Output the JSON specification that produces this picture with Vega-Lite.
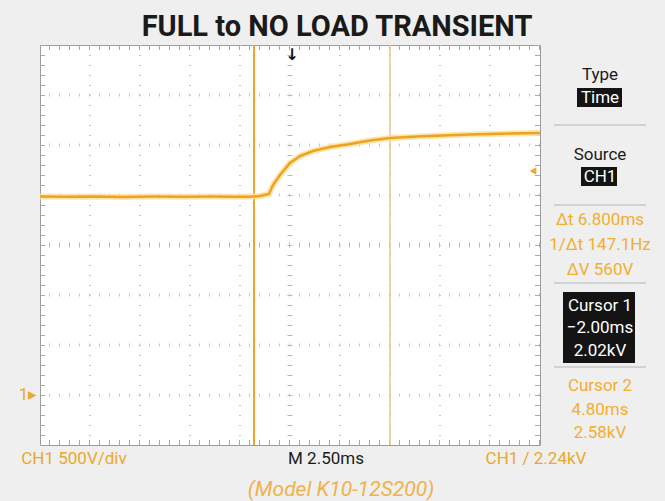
{
  "$schema": "https://vega.github.io/schema/vega-lite/v6.json",
  "autosize": {"type": "none"},
  "width": 500,
  "height": 400,
  "padding": {"left": 40, "top": 45, "right": 125, "bottom": 56},
  "background": "#efefef",
  "title": {"text": "FULL to NO LOAD TRANSIENT", "font": "Roboto", "fontWeight": "bold", "fontSize": 29, "color": "#1a1a1a", "anchor": "middle", "dx": 47, "offset": 1},
  "config": {"view": {"stroke": "#9c9c9c", "strokeWidth": 1, "fill": "white"}, "text": {"font": "Roboto"}},
  "datasets": {
    "trace": [
      {"t": -12.7, "v": 1984}, {"t": -11.5, "v": 1982}, {"t": -10.0, "v": 1985}, {"t": -8.5, "v": 1981},
      {"t": -7.0, "v": 1984}, {"t": -5.5, "v": 1982}, {"t": -4.0, "v": 1985}, {"t": -3.0, "v": 1983},
      {"t": -2.2, "v": 1983}, {"t": -1.7, "v": 1990}, {"t": -1.25, "v": 2010}, {"t": -1.05, "v": 2100},
      {"t": -0.7, "v": 2200}, {"t": -0.2, "v": 2320}, {"t": 0.3, "v": 2390}, {"t": 0.95, "v": 2440},
      {"t": 1.8, "v": 2480}, {"t": 2.65, "v": 2505}, {"t": 3.8, "v": 2545}, {"t": 4.8, "v": 2570},
      {"t": 6.15, "v": 2585}, {"t": 6.8, "v": 2590}, {"t": 8.8, "v": 2605}, {"t": 10.8, "v": 2615},
      {"t": 12.3, "v": 2620}
    ],
    "cursors": [
      {"cursor": "Cursor 1", "t": -2.0},
      {"cursor": "Cursor 2", "t": 4.8}
    ],
    "grid_t": [{"t": -10.2}, {"t": -7.7}, {"t": -5.2}, {"t": -2.7}, {"t": 2.3}, {"t": 4.8}, {"t": 7.3}, {"t": 9.8}],
    "grid_v": [{"v": 0}, {"v": 500}, {"v": 1000}, {"v": 2000}, {"v": 2500}, {"v": 3000}],
    "center": [{"t": -0.2, "v": 1500}],
    "edges_t": [{"t": -12.7}, {"t": 12.3}],
    "edges_v": [{"v": -500}, {"v": 3500}],
    "boxes": [
      {"item": "Time", "t": 14.15, "t2": 16.4, "v": 2880, "v2": 3070},
      {"item": "CH1", "t": 14.35, "t2": 16.15, "v": 2090, "v2": 2280},
      {"item": "Cursor 1", "t": 13.45, "t2": 17.05, "v": 320, "v2": 1030}
    ],
    "separators": [
      {"t": 13.0, "t2": 17.6, "v": 2700},
      {"t": 13.0, "t2": 17.6, "v": 1900},
      {"t": 13.0, "t2": 17.6, "v": 1120},
      {"t": 13.0, "t2": 17.6, "v": 280}
    ],
    "labels": [
      {"text": "Type", "t": 15.3, "v": 3200, "kind": "menu title"},
      {"text": "Time", "t": 15.3, "v": 2975, "kind": "menu value"},
      {"text": "Source", "t": 15.3, "v": 2400, "kind": "menu title"},
      {"text": "CH1", "t": 15.3, "v": 2185, "kind": "menu value"},
      {"text": "Δt 6.800ms", "t": 15.3, "v": 1750, "kind": "measurement"},
      {"text": "1/Δt 147.1Hz", "t": 15.3, "v": 1500, "kind": "measurement"},
      {"text": "ΔV 560V", "t": 15.3, "v": 1250, "kind": "measurement"},
      {"text": "Cursor 1", "t": 15.3, "v": 890, "kind": "cursor 1"},
      {"text": "−2.00ms", "t": 15.3, "v": 670, "kind": "cursor 1"},
      {"text": "2.02kV", "t": 15.3, "v": 440, "kind": "cursor 1"},
      {"text": "Cursor 2", "t": 15.3, "v": 95, "kind": "cursor 2"},
      {"text": "4.80ms", "t": 15.3, "v": -150, "kind": "cursor 2"},
      {"text": "2.58kV", "t": 15.3, "v": -380, "kind": "cursor 2"},
      {"text": "CH1  500V/div", "t": -11.0, "v": -640, "kind": "channel"},
      {"text": "M 2.50ms", "t": 1.6, "v": -640, "kind": "timebase"},
      {"text": "CH1  /  2.24kV", "t": 12.1, "v": -640, "kind": "channel"},
      {"text": "1▸", "t": -13.3, "v": 0, "kind": "channel"}
    ],
    "notes": [
      {"text": "(Model K10-12S200)", "t": 2.35, "v": -950}
    ],
    "trigger": [
      {"marker": "trigger level", "t": 11.95, "v": 2240},
      {"marker": "trigger position", "t": -0.1, "v": 3480}
    ]
  },
  "layer": [
    {
      "data": {"name": "grid_t"},
      "mark": {"type": "rule", "color": "#c4c4c4", "strokeWidth": 2, "strokeDash": [1, 9]},
      "encoding": {"x": {"field": "t", "type": "quantitative", "scale": {"domain": [-12.7, 12.3], "nice": false, "zero": false}, "axis": null}}
    },
    {
      "data": {"name": "grid_v"},
      "mark": {"type": "rule", "color": "#c4c4c4", "strokeWidth": 3, "strokeDash": [1, 9]},
      "encoding": {"y": {"field": "v", "type": "quantitative", "scale": {"domain": [-500, 3500], "nice": false, "zero": false}, "axis": null}}
    },
    {
      "data": {"name": "center"},
      "mark": {"type": "rule", "color": "#b8b8b8", "strokeWidth": 5, "strokeDash": [1, 9]},
      "encoding": {"x": {"field": "t", "type": "quantitative", "scale": {"domain": [-12.7, 12.3], "nice": false, "zero": false}, "axis": null}}
    },
    {
      "data": {"name": "center"},
      "mark": {"type": "rule", "color": "#b8b8b8", "strokeWidth": 5, "strokeDash": [1, 9]},
      "encoding": {"y": {"field": "v", "type": "quantitative", "scale": {"domain": [-500, 3500], "nice": false, "zero": false}, "axis": null}}
    },
    {
      "data": {"name": "edges_t"},
      "mark": {"type": "rule", "color": "#a8a8a8", "strokeWidth": 10, "strokeDash": [1, 9], "clip": true},
      "encoding": {"x": {"field": "t", "type": "quantitative", "scale": {"domain": [-12.7, 12.3], "nice": false, "zero": false}, "axis": null}}
    },
    {
      "data": {"name": "edges_v"},
      "mark": {"type": "rule", "color": "#a8a8a8", "strokeWidth": 10, "strokeDash": [1, 9], "clip": true},
      "encoding": {"y": {"field": "v", "type": "quantitative", "scale": {"domain": [-500, 3500], "nice": false, "zero": false}, "axis": null}}
    },
    {
      "data": {"name": "cursors"},
      "transform": [{"filter": "datum.cursor === 'Cursor 2'"}],
      "mark": {"type": "rule", "color": "#e4c78c", "strokeWidth": 1.5},
      "encoding": {"x": {"field": "t", "type": "quantitative", "scale": {"domain": [-12.7, 12.3], "nice": false, "zero": false}, "axis": null}}
    },
    {
      "data": {"name": "cursors"},
      "transform": [{"filter": "datum.cursor === 'Cursor 1'"}],
      "mark": {"type": "rule", "color": "#f0a22a", "strokeWidth": 2},
      "encoding": {"x": {"field": "t", "type": "quantitative", "scale": {"domain": [-12.7, 12.3], "nice": false, "zero": false}, "axis": null}}
    },
    {
      "data": {"name": "trace"},
      "mark": {"type": "line", "color": "#fbe2a0", "strokeWidth": 6, "opacity": 0.85},
      "encoding": {
        "x": {"field": "t", "type": "quantitative", "scale": {"domain": [-12.7, 12.3], "nice": false, "zero": false}, "axis": null},
        "y": {"field": "v", "type": "quantitative", "scale": {"domain": [-500, 3500], "nice": false, "zero": false}, "axis": null}
      }
    },
    {
      "data": {"name": "trace"},
      "mark": {"type": "line", "color": "#f0a21e", "strokeWidth": 2.5},
      "encoding": {
        "x": {"field": "t", "type": "quantitative", "scale": {"domain": [-12.7, 12.3], "nice": false, "zero": false}, "axis": null},
        "y": {"field": "v", "type": "quantitative", "scale": {"domain": [-500, 3500], "nice": false, "zero": false}, "axis": null}
      }
    },
    {
      "data": {"name": "trigger"},
      "transform": [{"filter": "datum.marker === 'trigger level'"}],
      "mark": {"type": "point", "shape": "triangle-left", "filled": true, "size": 60, "color": "#f0a830", "opacity": 1},
      "encoding": {
        "x": {"field": "t", "type": "quantitative", "scale": {"domain": [-12.7, 12.3], "nice": false, "zero": false}, "axis": null},
        "y": {"field": "v", "type": "quantitative", "scale": {"domain": [-500, 3500], "nice": false, "zero": false}, "axis": null}
      }
    },
    {
      "data": {"name": "trigger"},
      "transform": [{"filter": "datum.marker === 'trigger position'"}],
      "mark": {"type": "text", "text": "↓", "font": "DejaVu Sans", "fontWeight": "bold", "fontSize": 16, "baseline": "top", "color": "#111111"},
      "encoding": {
        "x": {"field": "t", "type": "quantitative", "scale": {"domain": [-12.7, 12.3], "nice": false, "zero": false}, "axis": null},
        "y": {"field": "v", "type": "quantitative", "scale": {"domain": [-500, 3500], "nice": false, "zero": false}, "axis": null}
      }
    },
    {
      "data": {"name": "separators"},
      "mark": {"type": "rule", "color": "#d2d2d2", "strokeWidth": 2},
      "encoding": {
        "x": {"field": "t", "type": "quantitative", "scale": {"domain": [-12.7, 12.3], "nice": false, "zero": false}, "axis": null},
        "x2": {"field": "t2"},
        "y": {"field": "v", "type": "quantitative", "scale": {"domain": [-500, 3500], "nice": false, "zero": false}, "axis": null}
      }
    },
    {
      "data": {"name": "boxes"},
      "mark": {"type": "rect", "color": "#141414"},
      "encoding": {
        "x": {"field": "t", "type": "quantitative", "scale": {"domain": [-12.7, 12.3], "nice": false, "zero": false}, "axis": null},
        "x2": {"field": "t2"},
        "y": {"field": "v", "type": "quantitative", "scale": {"domain": [-500, 3500], "nice": false, "zero": false}, "axis": null},
        "y2": {"field": "v2"}
      }
    },
    {
      "data": {"name": "labels"},
      "mark": {"type": "text", "align": "center", "baseline": "middle", "fontSize": 17},
      "encoding": {
        "x": {"field": "t", "type": "quantitative", "scale": {"domain": [-12.7, 12.3], "nice": false, "zero": false}, "axis": null},
        "y": {"field": "v", "type": "quantitative", "scale": {"domain": [-500, 3500], "nice": false, "zero": false}, "axis": null},
        "text": {"field": "text"},
        "color": {"field": "kind", "type": "nominal", "legend": null,
          "scale": {"domain": ["menu title", "menu value", "measurement", "cursor 1", "cursor 2", "channel", "timebase"],
                    "range": ["#1a1a1a", "#ffffff", "#f2ae30", "#ffffff", "#f2ae30", "#eaa82c", "#1a1a1a"]}}
      }
    },
    {
      "data": {"name": "notes"},
      "mark": {"type": "text", "align": "center", "baseline": "middle", "fontSize": 21, "font": "Roboto", "fontStyle": "italic", "color": "#f0b24a"},
      "encoding": {
        "x": {"field": "t", "type": "quantitative", "scale": {"domain": [-12.7, 12.3], "nice": false, "zero": false}, "axis": null},
        "y": {"field": "v", "type": "quantitative", "scale": {"domain": [-500, 3500], "nice": false, "zero": false}, "axis": null},
        "text": {"field": "text"}
      }
    }
  ]
}
